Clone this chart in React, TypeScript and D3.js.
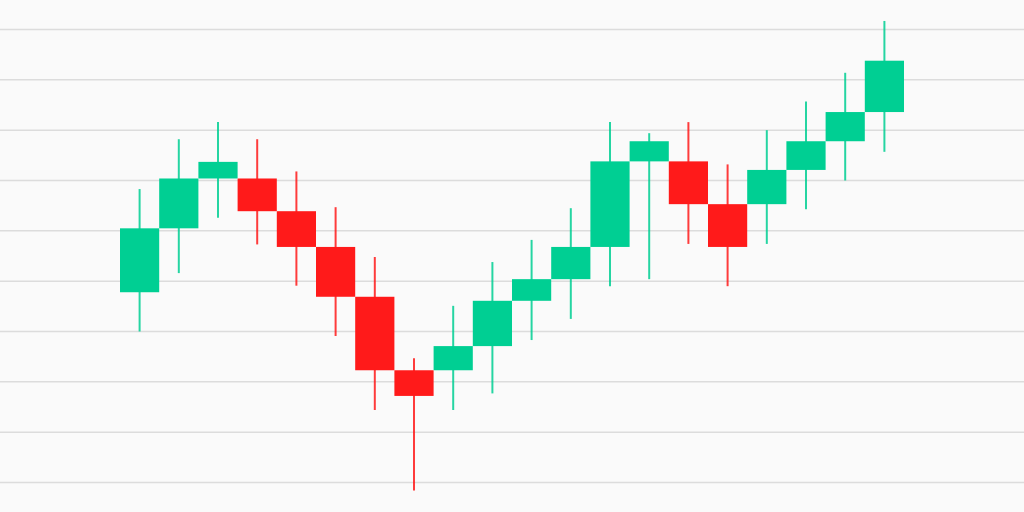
import React from "react";
import * as d3 from "d3";

const opens = [37.8, 50.5, 60.4, 60.4, 53.9, 46.8, 36.9, 22.3, 22.3, 27.1, 36.1, 40.4, 46.8, 63.8, 63.8, 55.3, 55.3, 62.1, 67.8, 73.6];
const highs = [58.3, 68.2, 71.6, 68.2, 61.8, 54.7, 44.8, 24.7, 35.1, 43.8, 48.2, 54.5, 71.6, 69.4, 71.6, 63.2, 70.0, 75.7, 81.4, 91.7];
const lows = [30.0, 41.6, 52.6, 47.3, 39.1, 29.1, 14.4, -1.6, 14.4, 17.7, 28.3, 32.5, 39.0, 40.4, 47.4, 39.0, 47.4, 54.3, 60.0, 65.7];
const closes = [50.5, 60.4, 63.7, 53.9, 46.8, 36.9, 22.3, 17.2, 27.1, 36.1, 40.4, 46.8, 63.8, 67.8, 55.3, 46.8, 62.1, 67.8, 73.6, 83.8];
const gridValues = [0, 10, 20, 30, 40, 50, 60, 70, 80, 90];

const W = 1024;
const H = 512;

export default function App() {
  const idx = d3.range(opens.length);
  const x = d3.scaleBand<number>().domain(idx).range([120, 904]).padding(0);
  const y = d3.scaleLinear().domain([0, 90]).range([482.5, 29.5]);
  const up = "#00cf93";
  const down = "#ff1a1a";
  return (
    <svg width={W} height={H} style={{ position: "absolute", left: 0, top: 0, display: "block" }}>
      <rect x={0} y={0} width={W} height={H} fill="#fafafa" />
      {gridValues.map((g) => (
        <line key={g} x1={0} x2={W} y1={y(g)} y2={y(g)} stroke="#dcdcdc" strokeWidth={1.5} />
      ))}
      {idx.map((i) => {
        const o = opens[i], c = closes[i];
        const col = c >= o ? up : down;
        const cx = (x(i) as number) + x.bandwidth() / 2;
        const top = y(Math.max(o, c));
        const bot = y(Math.min(o, c));
        return (
          <g key={i}>
            <line x1={cx} x2={cx} y1={y(highs[i])} y2={y(lows[i])} stroke={col} strokeWidth={2} opacity={0.85} />
            <rect x={x(i)} y={top} width={x.bandwidth()} height={Math.max(1, bot - top)} fill={col} />
          </g>
        );
      })}
    </svg>
  );
}
